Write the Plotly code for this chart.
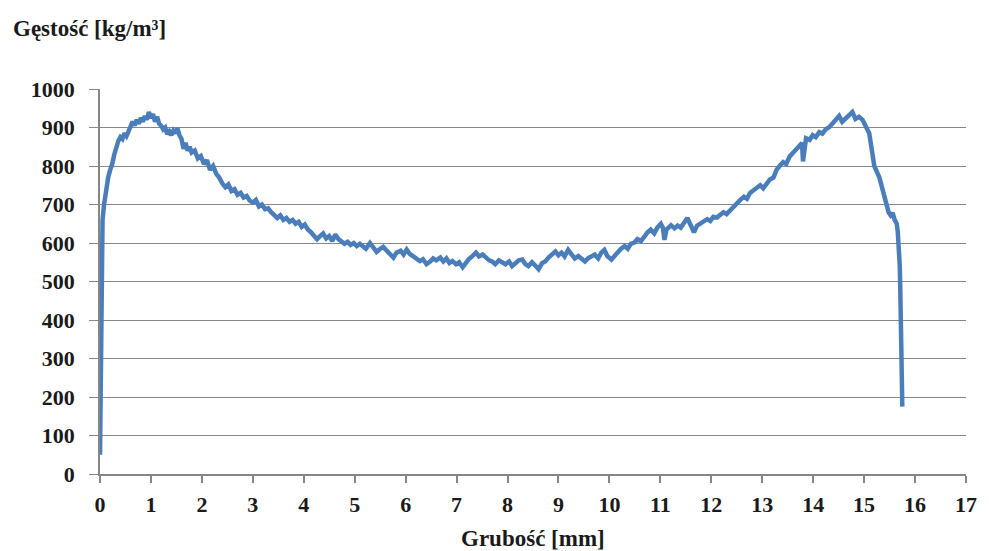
import plotly.graph_objects as go

thickness_mm = [
    0.00, 0.01, 0.015, 0.02, 0.03, 0.05, 0.08, 0.12, 0.16, 0.20, 0.24, 0.28, 0.32, 0.36, 0.40, 0.44, 0.48, 0.52,
    0.56, 0.60, 0.64, 0.68, 0.72, 0.76, 0.80, 0.84, 0.88, 0.92, 0.96, 1.00, 1.04, 1.08, 1.12, 1.16, 1.20, 1.24,
    1.28, 1.32, 1.36, 1.40, 1.44, 1.48, 1.52, 1.56, 1.60, 1.64, 1.68, 1.72, 1.76, 1.80, 1.86, 1.92, 1.98, 2.04,
    2.10, 2.16, 2.22, 2.28, 2.34, 2.40, 2.46, 2.52, 2.58, 2.64, 2.70, 2.76, 2.82, 2.88, 2.94, 3.00, 3.06, 3.12,
    3.18, 3.24, 3.30, 3.36, 3.42, 3.48, 3.54, 3.60, 3.66, 3.72, 3.78, 3.84, 3.90, 3.96, 4.02, 4.08, 4.14, 4.20,
    4.26, 4.32, 4.38, 4.44, 4.50, 4.56, 4.62, 4.68, 4.74, 4.80, 4.86, 4.92, 4.98, 5.04, 5.10, 5.16, 5.22, 5.30,
    5.36, 5.43, 5.50, 5.56, 5.63, 5.70, 5.76, 5.82, 5.90, 5.96, 6.02, 6.08, 6.14, 6.21, 6.28, 6.34, 6.41, 6.48,
    6.54, 6.60, 6.68, 6.74, 6.80, 6.86, 6.92, 6.99, 7.05, 7.12, 7.18, 7.24, 7.31, 7.38, 7.44, 7.51, 7.58, 7.64,
    7.70, 7.76, 7.83, 7.90, 7.96, 8.03, 8.09, 8.16, 8.22, 8.29, 8.35, 8.41, 8.48, 8.54, 8.61, 8.68, 8.74, 8.81,
    8.87, 8.94, 9.00, 9.06, 9.12, 9.19, 9.26, 9.32, 9.39, 9.45, 9.52, 9.58, 9.64, 9.71, 9.78, 9.84, 9.90, 9.96,
    10.04, 10.10, 10.16, 10.23, 10.30, 10.36, 10.42, 10.49, 10.55, 10.62, 10.69, 10.75, 10.81, 10.88, 10.94,
    11.01, 11.05, 11.08, 11.12, 11.21, 11.28, 11.34, 11.40, 11.47, 11.53, 11.59, 11.66, 11.72, 11.78, 11.85,
    11.92, 11.98, 12.04, 12.11, 12.18, 12.24, 12.30, 12.37, 12.44, 12.50, 12.57, 12.64, 12.70, 12.76, 12.83,
    12.90, 12.96, 13.02, 13.09, 13.15, 13.22, 13.28, 13.34, 13.41, 13.47, 13.54, 13.61, 13.67, 13.74, 13.78,
    13.80, 13.83, 13.86, 13.93, 13.99, 14.05, 14.12, 14.18, 14.25, 14.31, 14.38, 14.44, 14.51, 14.57, 14.64,
    14.70, 14.77, 14.83, 14.90, 14.97, 15.03, 15.10, 15.13, 15.16, 15.20, 15.25, 15.30, 15.35, 15.40, 15.44,
    15.48, 15.52, 15.56, 15.60, 15.64, 15.66, 15.68, 15.70, 15.71, 15.72, 15.73, 15.74, 15.75,
]
density = [
    50, 200, 350, 480, 600, 660, 700, 740, 770, 790, 805, 830, 850, 865, 875, 870, 885, 878,
    890, 905, 915, 905, 920, 910, 925, 915, 930, 920, 940, 925, 935, 915, 928, 910, 905, 895,
    900, 883, 890, 880, 892, 885, 898, 880, 870, 845, 860, 840, 850, 835, 840, 820, 826, 805,
    815, 790, 800, 780, 770, 755, 745, 752, 735, 740, 725, 730, 718, 722, 710, 705, 712, 695,
    700, 688, 690, 680, 672, 665, 672, 660, 665, 655, 660, 650, 655, 642, 648, 635, 628, 620,
    610, 618, 625, 612, 618, 605, 622, 610, 605, 598, 603, 595, 600, 592, 598, 590, 585, 600,
    590, 577, 585, 590, 580, 572, 562, 575, 580, 570, 583, 572, 566, 562, 553, 558, 545, 552,
    560, 555, 562, 552, 560, 548, 553, 545, 550, 537, 548, 558, 566, 575, 565, 570, 562, 555,
    552, 545, 555, 548, 545, 552, 540, 548, 555, 557, 545, 540, 550, 542, 532, 548, 552, 563,
    570, 578, 568, 575, 565, 582, 570, 560, 566, 558, 552, 560, 565, 570, 560, 575, 582, 566,
    557, 568, 575, 585, 592, 585, 598, 601, 610, 605, 620, 628, 635, 625, 640,
    650, 640, 608, 635, 646, 638, 645, 640, 655, 665, 648, 628, 645, 650, 655,
    662, 657, 668, 666, 675, 680, 675, 685, 695, 705, 712, 720, 715, 730, 738,
    745, 750, 742, 755, 765, 770, 790, 800, 810, 805, 825, 835, 845, 855, 860,
    812, 858, 872, 868, 880, 875, 888, 884, 896, 900, 912, 918, 930, 915, 925,
    932, 940, 922, 928, 920, 905, 885, 860, 830, 800, 785, 770, 745, 720, 690,
    680, 672, 678, 660, 650, 630, 600, 540, 480, 400, 320, 240, 175,
]

x_ticks = list(range(0, 18))
y_ticks = list(range(0, 1001, 100))
y_title = "Gęstość [kg/m³]"
x_title = "Grubość [mm]"

tick_font = dict(family="Liberation Serif", size=22, color="#1a1a1a", weight="bold")
title_font = dict(family="Liberation Serif", size=23, color="#1a1a1a", weight="bold")

fig = go.Figure(
    go.Scatter(
        x=thickness_mm, y=density, mode="lines",
        line=dict(color="#4A7EBB", width=4.5),
        hoverinfo="skip",
    )
)

fig.update_layout(
    width=989, height=551,
    margin=dict(l=100, r=15, t=89, b=77),
    paper_bgcolor="white", plot_bgcolor="white",
    showlegend=False,
)
fig.update_xaxes(
    range=[0, 17], tickvals=x_ticks, ticktext=[str(v) for v in x_ticks],
    showgrid=False, zeroline=False,
    showline=True, linecolor="#868686", linewidth=1.5,
    ticks="outside", ticklen=7, tickcolor="#868686", tickwidth=1.5,
    tickfont=tick_font, ticklabelstandoff=3,
)
fig.update_yaxes(
    range=[0, 1000], tickvals=y_ticks, ticktext=[str(v) for v in y_ticks],
    showgrid=True, gridcolor="#868686", gridwidth=1.2, zeroline=False,
    showline=True, linecolor="#868686", linewidth=1.5,
    ticks="outside", ticklen=9, tickcolor="#868686", tickwidth=1.2,
    tickfont=tick_font, ticklabelstandoff=10,
)

fig.add_annotation(
    text=y_title, xref="paper", yref="paper",
    x=(10 - 100) / 874, y=(474 - 28) / 385,
    xanchor="left", yanchor="middle", showarrow=False, font=title_font,
)
fig.add_annotation(
    text=x_title, xref="paper", yref="paper",
    x=0.5, y=(474 - 538) / 385,
    xanchor="center", yanchor="middle", showarrow=False, font=title_font,
)

fig.write_html("out.html")
